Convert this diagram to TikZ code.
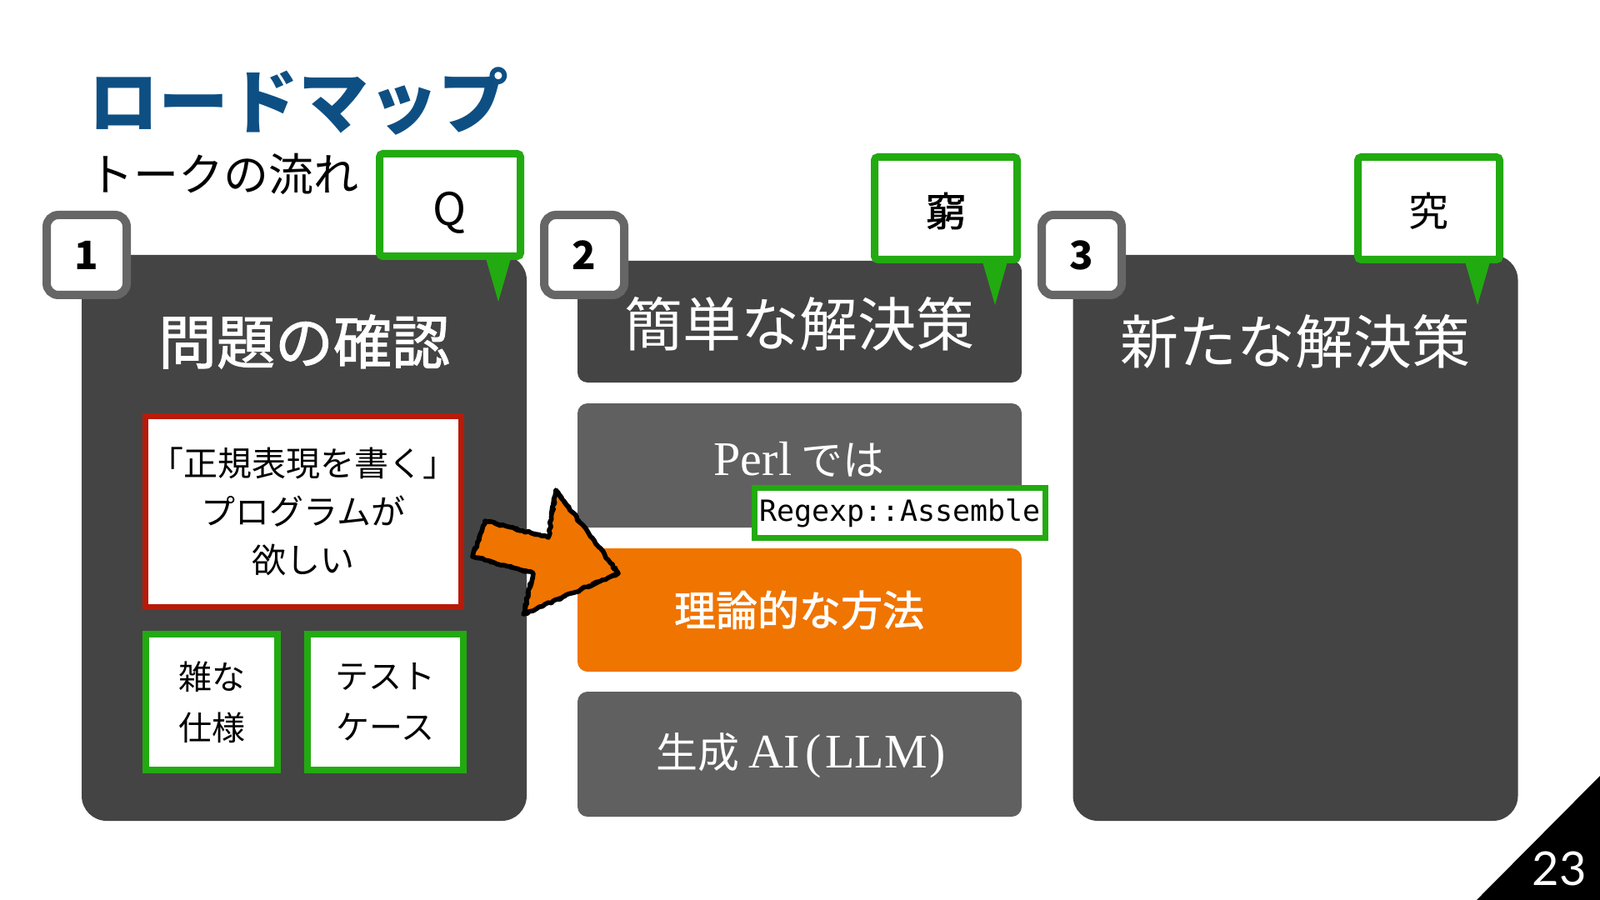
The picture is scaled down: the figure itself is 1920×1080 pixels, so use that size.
\documentclass[tikz,border=0pt]{standalone}
\usepackage{fontspec}
\setmainfont{Noto Sans CJK JP}
\newfontfamily\seriffont{Liberation Serif}
\newfontfamily\codefont{DejaVu Sans Mono}
\newfontfamily\numfont{Lato}
\newfontfamily\medfont[FakeBold=1.6]{Noto Sans CJK JP}
\usetikzlibrary{decorations.pathmorphing}
\definecolor{titleblue}{HTML}{0E4F83}
\definecolor{darkbox}{HTML}{444444}
\definecolor{graybox}{HTML}{606060}
\definecolor{badgegray}{HTML}{666666}
\definecolor{calloutgreen}{HTML}{22AA11}
\definecolor{alertred}{HTML}{B81A0A}
\definecolor{accentorange}{HTML}{F07400}
\begin{document}
\begin{tikzpicture}[x=0.5pt,y=-0.5pt,
  panel/.style={fill=darkbox, rounded corners=15pt, inner sep=0pt, minimum width=267pt, minimum height=339.5pt},
  bar/.style={rounded corners=6pt, inner sep=0pt, minimum width=266.5pt},
  bartext/.style={inner sep=0pt, text=white},
  paneltitle/.style={inner sep=0pt, text=white, font=\fontsize{35}{40}\selectfont},
  badge/.style={draw=badgegray, line width=5pt, fill=white, rounded corners=7pt, minimum size=48pt, inner sep=0pt, font=\fontsize{23.5}{28}\selectfont\bfseries},
  callout/.style={draw=calloutgreen, line width=4.5pt, fill=white, rounded corners=2pt, minimum height=61.5pt, inner sep=0pt},
  tail/.style={fill=calloutgreen},
  notebox/.style={draw=calloutgreen, line width=4pt, fill=white, inner sep=0pt, minimum height=81.5pt, align=center, font=\fontsize{20}{30.5}\selectfont}
]
\useasboundingbox (0,0) rectangle (1920,1080);
\fill[white] (0,0) rectangle (1920,1080);

% titles
\node[anchor=west, inner sep=0pt, text=titleblue, font=\fontsize{42}{50}\selectfont\bfseries] (title) at (106,121.5) {ロードマップ};
\node[anchor=west, inner sep=0pt, font=\fontsize{27}{32}\selectfont] (subtitle) at (106,208.5) {トークの流れ};

% panels
\node[panel] (p1) at (365,645.5) {};
\node[panel] (p3) at (1554.5,645.5) {};
\node[bar, fill=darkbox, minimum height=73pt] (h2) at (959.5,386) {};
\node[bar, fill=graybox, minimum height=74.5pt] (perl) at (959.5,558.5) {};
\node[bar, fill=accentorange, minimum height=74pt] (theory) at (959.5,732) {};
\node[bar, fill=graybox, minimum height=75pt] (llm) at (959.5,905) {};

% panel titles
\node[paneltitle, font=\medfont\fontsize{35}{40}\selectfont] (t1) at (365,410) {問題の確認};
\node[paneltitle] (t2) at (959,389) {簡単な解決策};
\node[paneltitle] (t3) at (1554,410) {新たな解決策};

% bar texts
\node[bartext] (perltext) at (959,551) {\fontsize{25}{30}\selectfont{\seriffont\fontsize{29}{34}\selectfont Perl} では};
\node[bartext, font=\medfont\fontsize{25}{30}\selectfont] (theorytext) at (959,732) {理論的な方法};
\node[bartext] (llmtext) at (961,907) {\fontsize{25}{30}\selectfont 生成 {\seriffont\fontsize{29}{34}\selectfont AI\kern0.12em(\kern0.08em LLM\kern0.05em)}};

% code box
\node[draw=calloutgreen, line width=3.5pt, fill=white, inner sep=0pt, minimum width=174.5pt, minimum height=30pt, font=\codefont\fontsize{17.5}{22}\selectfont] (code) at (1080,615.5) {Regexp::Assemble};

% requirement boxes
\node[draw=alertred, line width=3.5pt, fill=white, minimum width=189.5pt, minimum height=114.5pt, inner sep=0pt, align=center, font=\fontsize{20.5}{29}\selectfont] (req) at (364,614) {「正規表現を書く」\\プログラムが\\欲しい};
\node[notebox, minimum width=79pt] (spec) at (254,842.5) {雑な\\仕様};
\node[notebox, minimum width=93.5pt] (tests) at (462.5,842.5) {テスト\\ケース};

% badges
\node[badge] (b1) at (104,306) {1};
\node[badge] (b2) at (701,306) {2};
\node[badge] (b3) at (1298,306) {3};

% callouts
\node[callout, minimum width=84.5pt, font=\fontsize{27}{32}\selectfont] (q) at (540,246) {\raisebox{-4.5pt}[\height][\depth]{Q}};
\node[callout, minimum width=85.5pt, font=\medfont\fontsize{24}{28}\selectfont] (kyu) at (1135,250) {\raisebox{-1.5pt}[\height][\depth]{窮}};
\node[callout, minimum width=85pt, font=\fontsize{24}{28}\selectfont] (kiwa) at (1714.5,250) {\raisebox{-1.5pt}[\height][\depth]{究}};
\foreach \c in {q,kyu,kiwa}{
  \fill[tail] (\c.south east) ++(-46,-2) -- ++(30,0) -- ++(-15,52) -- cycle;
}

% sketchy arrow
\coordinate (ar1) at (742,688);
\coordinate (ar2) at (667,588);
\coordinate (ar3) at (658,645);
\coordinate (ar4) at (582,625);
\coordinate (ar5) at (567,668);
\coordinate (ar6) at (640,688);
\coordinate (ar7) at (628,737);
\fill[accentorange] (ar1) -- (ar2) -- (ar3) -- (ar4) -- (ar5) -- (ar6) -- (ar7) -- cycle;
\draw[black, line width=2.8pt, line join=round, decorate, decoration={random steps, segment length=2pt, amplitude=0.6pt}]
  (ar1) -- (ar2) -- (ar3) -- (ar4) -- (ar5) -- (ar6) -- (ar7) -- cycle;
\draw[black, line width=1.2pt, line join=round, decorate, decoration={random steps, segment length=3pt, amplitude=1.3pt}]
  (ar1) -- (ar2) -- (ar3) -- (ar4) -- (ar5) -- (ar6) -- (ar7) -- cycle;

% page number
\fill[black] (1772,1080) -- (1920,1080) -- (1920,931) -- cycle;
\node[inner sep=0pt, text=white, font=\numfont\fontsize{28}{32}\selectfont] (pageno) at (1871,1042) {23};
\end{tikzpicture}
\end{document}
